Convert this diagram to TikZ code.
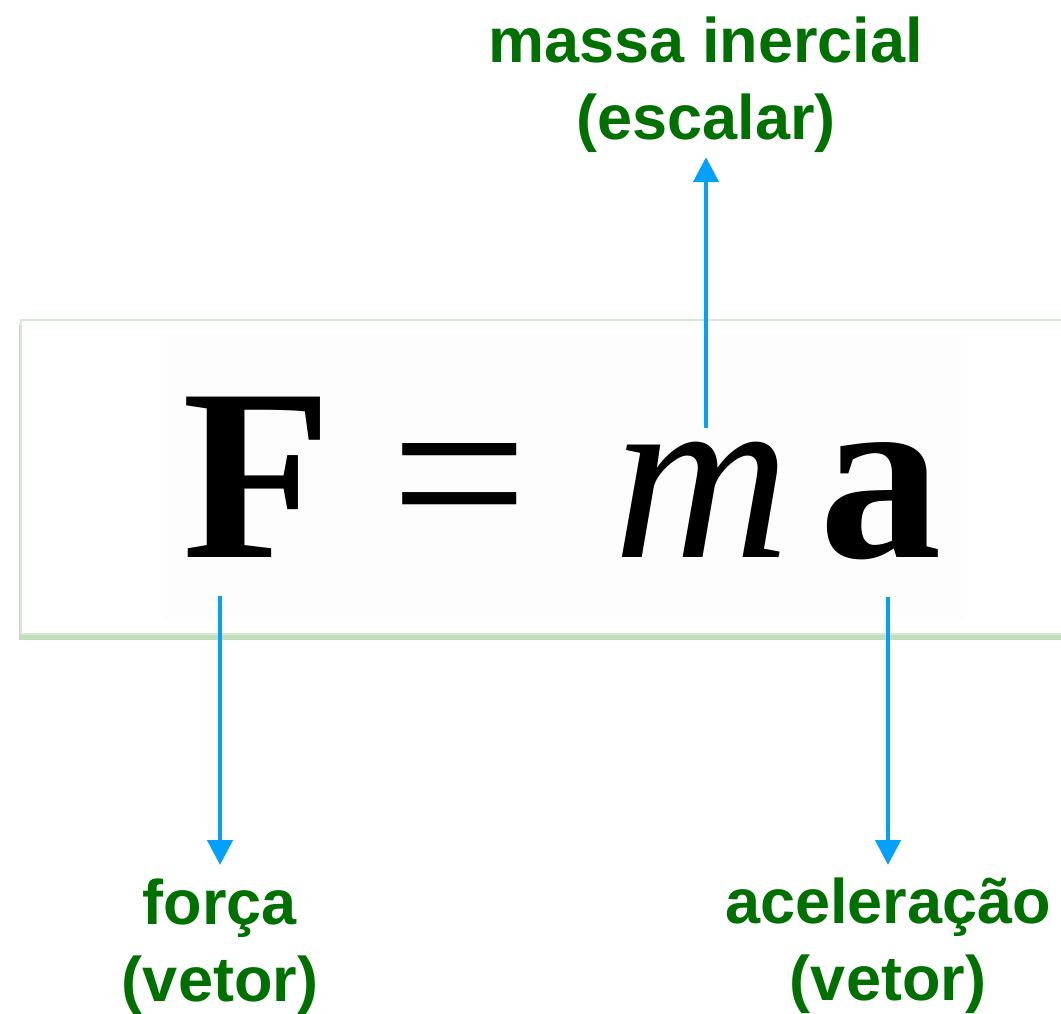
\documentclass[tikz,border=0pt]{standalone}
\usepackage{fontspec}
\setmainfont{Liberation Sans}
\newfontfamily\eqfont{Liberation Serif}
\usetikzlibrary{arrows.meta}
\definecolor{labelgreen}{RGB}{0,112,0}
\definecolor{arrowblue}{RGB}{3,161,252}
\definecolor{boxedge}{RGB}{214,232,212}
\definecolor{boxshadow}{RGB}{150,200,140}
\tikzset{
  lbl/.style={text=labelgreen, align=center, inner sep=0pt,
    font=\fontsize{63}{77}\selectfont\bfseries},
  eq/.style={anchor=base, inner sep=0pt, font=\fontsize{245}{245}\eqfont},
  arr/.style={-{Triangle[length=25pt,width=25pt]}, line width=4.5pt, draw=arrowblue}
}
\begin{document}
\begin{tikzpicture}[x=1pt,y=-1pt]
\useasboundingbox (0,0) rectangle (1061,1013);
% box holding the formula
\fill[boxshadow, opacity=.6] (19,325) rectangle (1080,640);
\draw[boxedge, fill=white, line width=2pt] (21,320) rectangle (1080,634);
\fill[black!0.8] (163,336) rectangle (965,620);
% formula
\node[eq] (F) at (257,557) {\bfseries F};
\node[eq] (eqs) at (460,555) {=};
\node[eq] (m) at (702,557) {\itshape m};
\node[eq] (a) at (881,557) {\bfseries a};
\coordinate (mtop) at (706,428);
\coordinate (Fbot) at (220,596);
\coordinate (abot) at (888,597);
% labels
\node[lbl, anchor=north] (massa) at (706,17) {massa inercial\\(escalar)};
\node[lbl, anchor=north] (forca) at (220,879) {força\\(vetor)};
\node[lbl, anchor=north] (acel) at (888,878) {aceleração\\(vetor)};
% arrows
\draw[arr, shorten >=4pt] (mtop) -- (mtop |- massa.south);
\draw[arr, shorten >=14pt] (Fbot) -- (Fbot |- forca.north);
\draw[arr, shorten >=13pt] (abot) -- (abot |- acel.north);
\end{tikzpicture}
\end{document}
